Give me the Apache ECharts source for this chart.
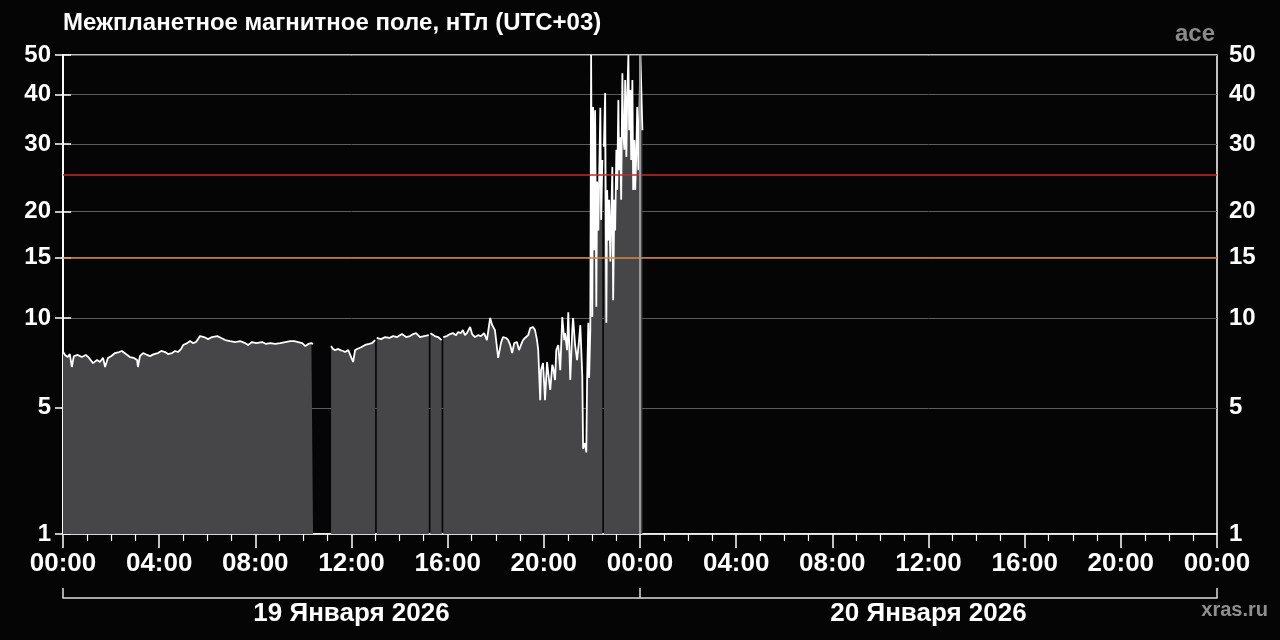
<!DOCTYPE html>
<html><head><meta charset="utf-8">
<script src="https://cdn.jsdelivr.net/npm/echarts@6/dist/echarts.min.js"></script>
<style>html,body{margin:0;padding:0;background:#050505}#c{width:1280px;height:640px}</style>
</head><body><div id="c"></div>
<script>
const titleText = 'Межпланетное магнитное поле, нТл (UTC+03)';
const sourceText = 'ace';
const siteText = 'xras.ru';
const yTickValues = [1, 5, 10, 15, 20, 30, 40, 50];
const dayLabels = ['19 Января 2026', '20 Января 2026'];
const dayBoundaries = [0, 1440, 2880];          // minutes from 19 Jan 00:00
const redLevel = 25;
const orangeLevel = 15;
// [minutes since 19 Jan 2026 00:00 (UTC+03), Bt nT]; null = data gap
const imfPoints = [
 [0,7.84],[5,7.65],[12,7.53],[17,7.70],[22,6.98],[27,7.58],[37,7.65],[47,7.53],[57,7.65],[65,7.48],
 [75,7.19],[85,7.36],[92,7.25],[100,7.48],[105,6.98],[112,7.48],[120,7.58],[130,7.76],[140,7.82],[147,7.88],
 [157,7.70],[167,7.53],[177,7.48],[185,7.36],[187,6.98],[192,7.58],[200,7.76],[210,7.65],[217,7.58],[227,7.70],
 [237,7.76],[245,7.88],[255,7.82],[262,7.70],[272,7.76],[280,7.88],[287,7.82],[295,8.00],[300,8.24],[310,8.35],
 [317,8.48],[325,8.35],[332,8.42],[342,8.79],[352,8.73],[362,8.60],[372,8.73],[385,8.79],[395,8.67],[405,8.54],
 [417,8.48],[430,8.42],[442,8.48],[455,8.35],[462,8.24],[472,8.42],[482,8.35],[497,8.42],[507,8.30],[517,8.35],
 [530,8.30],[542,8.35],[555,8.42],[567,8.48],[577,8.48],[587,8.42],[597,8.35],[605,8.17],[612,8.30],[620,8.35],
 [624,8.30],[626,null],
 [669,8.17],[674,8.00],[679,7.93],[687,8.00],[692,7.93],[699,7.88],[704,7.82],[712,7.93],[716,7.88],[724,7.25],
 [729,7.93],[734,8.00],[744,8.10],[754,8.24],[764,8.30],[771,8.35],[779,8.54],[781,null],[783,8.67],[794,8.60],
 [804,8.73],[814,8.67],[824,8.79],[834,8.73],[846,8.92],[856,8.73],[866,8.79],[874,8.92],[881,8.98],[891,8.73],
 [901,8.79],[913,8.85],[915,null],[917,8.98],[928,8.79],[936,8.73],[945,8.54],[947,null],[949,8.73],[958,8.79],
 [966,8.92],[973,8.98],[981,8.85],[986,9.05],[993,8.98],[998,9.18],[1003,8.85],[1008,8.98],[1016,9.38],[1021,8.92],
 [1028,8.73],[1036,8.85],[1043,8.79],[1051,8.98],[1058,8.54],[1066,10.0],[1071,9.52],[1078,9.18],[1086,7.48],[1093,8.35],
 [1098,8.73],[1106,8.67],[1111,8.54],[1116,8.24],[1121,7.76],[1126,8.35],[1133,8.42],[1138,7.93],[1143,8.24],[1148,8.54],
 [1153,8.67],[1161,8.85],[1166,9.31],[1173,9.38],[1178,9.18],[1183,8.54],[1186,7.93],[1191,5.34],[1193,6.81],[1198,7.19],
 [1203,5.34],[1208,7.25],[1213,6.3],[1216,5.81],[1221,7.1],[1223,6.98],[1228,6.3],[1231,7.93],[1236,8.24],[1241,6.81],
 [1246,10.06],[1251,8.54],[1253,8.98],[1258,7.93],[1261,10.4],[1266,6.3],[1271,9.18],[1273,10.0],[1278,8.24],[1283,7.36],
 [1288,8.54],[1291,9.52],[1296,6.5],[1298,3.4],[1303,3.6],[1306,3.27],[1308,6.3],[1311,9.67],[1313,6.4],[1316,9.18],
 [1318,50],[1321,10.06],[1323,37.2],[1326,15.7],[1328,36.5],[1331,10.8],[1333,24],[1336,17.8],[1341,37.0],[1343,19.0],
 [1346,27.3],[1348,null],[1350,29.5],[1353,40.3],[1356,9.67],[1358,22.8],[1361,16.7],[1363,21.5],[1366,14.6],[1371,26.2],
 [1373,11.3],[1376,21.5],[1378,17.8],[1381,29.0],[1383,22.8],[1386,38.7],[1388,25.7],[1391,31.2],[1393,21.5],[1396,45.1],
 [1398,32.5],[1401,29.0],[1403,43.4],[1406,27.8],[1408,38.7],[1411,50],[1413,32.5],[1416,41.0],[1418,27.3],[1421,43.4],
 [1423,22.8],[1426,30.7],[1428,22.8],[1431,29.0],[1433,37.2],[1436,25.7],[1441,50],[1443,49.5],[1446,32.5]
];

const OFFS = 3.2;
const fwd = v => Math.log(v + OFFS);
const inv = t => Math.exp(t) - OFFS;
const FONT = '"Liberation Sans", Arial, sans-serif';
const pad = n => (n < 10 ? '0' : '') + n;

const chart = echarts.init(document.getElementById('c'), null, {renderer: 'canvas'});
const yTicksT = yTickValues.map(fwd);
const yLabelFmt = t => String(Math.round(inv(t)));
const yBase = {
  type: 'value', min: fwd(yTickValues[0]), max: fwd(yTickValues[yTickValues.length - 1]),
  axisLine: {show: true, lineStyle: {color: '#ffffff', width: 1.5}},
  axisTick: {show: true, length: 8, customValues: yTicksT, lineStyle: {color: '#ffffff', width: 1.5}},
  axisLabel: {customValues: yTicksT, formatter: yLabelFmt, color: '#ffffff', fontFamily: FONT,
              fontWeight: 'bold', fontSize: 24, margin: 12}
};
chart.setOption({
  animation: false,
  backgroundColor: '#050505',
  title: {text: titleText, left: 58, top: 6,
          textStyle: {color: '#ffffff', fontFamily: FONT, fontWeight: 'bold', fontSize: 24}},
  grid: {left: 63, right: 63, top: 55, bottom: 106, show: true, borderColor: '#ffffff', borderWidth: 1.5,
         backgroundColor: 'transparent'},
  xAxis: [{
    type: 'value', min: 0, max: 2880, interval: 240, position: 'bottom',
    axisLine: {show: true, lineStyle: {color: '#ffffff', width: 1.5}},
    axisTick: {show: true, length: 14, lineStyle: {color: '#ffffff', width: 1.5}},
    minorTick: {show: true, splitNumber: 4, length: 7, lineStyle: {color: '#ffffff', width: 1.2}},
    splitLine: {show: false},
    axisLabel: {formatter: v => pad(Math.floor((v % 1440) / 60)) + ':' + pad(v % 60),
                color: '#ffffff', fontFamily: FONT, fontWeight: 'bold', fontSize: 26, margin: 17,
                showMinLabel: true, showMaxLabel: true}
  }, {
    type: 'value', min: 0, max: 2880, position: 'bottom', offset: 64,
    axisLine: {show: true, lineStyle: {color: '#dddddd', width: 1.5}},
    axisTick: {show: true, inside: true, length: 10, customValues: dayBoundaries,
               lineStyle: {color: '#dddddd', width: 1.5}},
    splitLine: {show: false},
    axisLabel: {customValues: [(dayBoundaries[0] + dayBoundaries[1]) / 2, (dayBoundaries[1] + dayBoundaries[2]) / 2],
                formatter: v => dayLabels[v < dayBoundaries[1] ? 0 : 1],
                color: '#ffffff', fontFamily: FONT, fontWeight: 'bold', fontSize: 26, margin: 3}
  }],
  yAxis: [
    Object.assign({}, yBase, {position: 'left',
      splitLine: {show: true, lineStyle: {color: '#5c5c5c', width: 1}}}),
    Object.assign({}, yBase, {position: 'right', splitLine: {show: false}})
  ],
  graphic: [
    {type: 'text', right: 65, top: 22, style: {text: sourceText, fill: '#8a8a8a',
      font: 'bold 24px ' + FONT}},
    {type: 'text', right: 12, top: 600, style: {text: siteText, fill: '#8f8f8f',
      font: 'bold 20px ' + FONT}}
  ],
  series: [{
    type: 'line', xAxisIndex: 0, yAxisIndex: 0,
    data: imfPoints.map(p => [p[0], p[1] == null ? '-' : fwd(p[1])]),
    showSymbol: false, connectNulls: false, sampling: null,
    lineStyle: {color: '#ffffff', width: 1.8},
    areaStyle: {color: '#464547', opacity: 1, origin: 'start'},
    markLine: {
      silent: true, symbol: 'none', label: {show: false}, animation: false,
      data: [
        {yAxis: fwd(orangeLevel), lineStyle: {color: '#d9843f', width: 1.5, type: 'solid'}},
        {yAxis: fwd(redLevel), lineStyle: {color: '#c42a2a', width: 1.5, type: 'solid'}},
        {xAxis: dayBoundaries[1], lineStyle: {color: '#9a9a9a', width: 2, type: 'solid'}}
      ]
    }
  }]
});
</script></body></html>
